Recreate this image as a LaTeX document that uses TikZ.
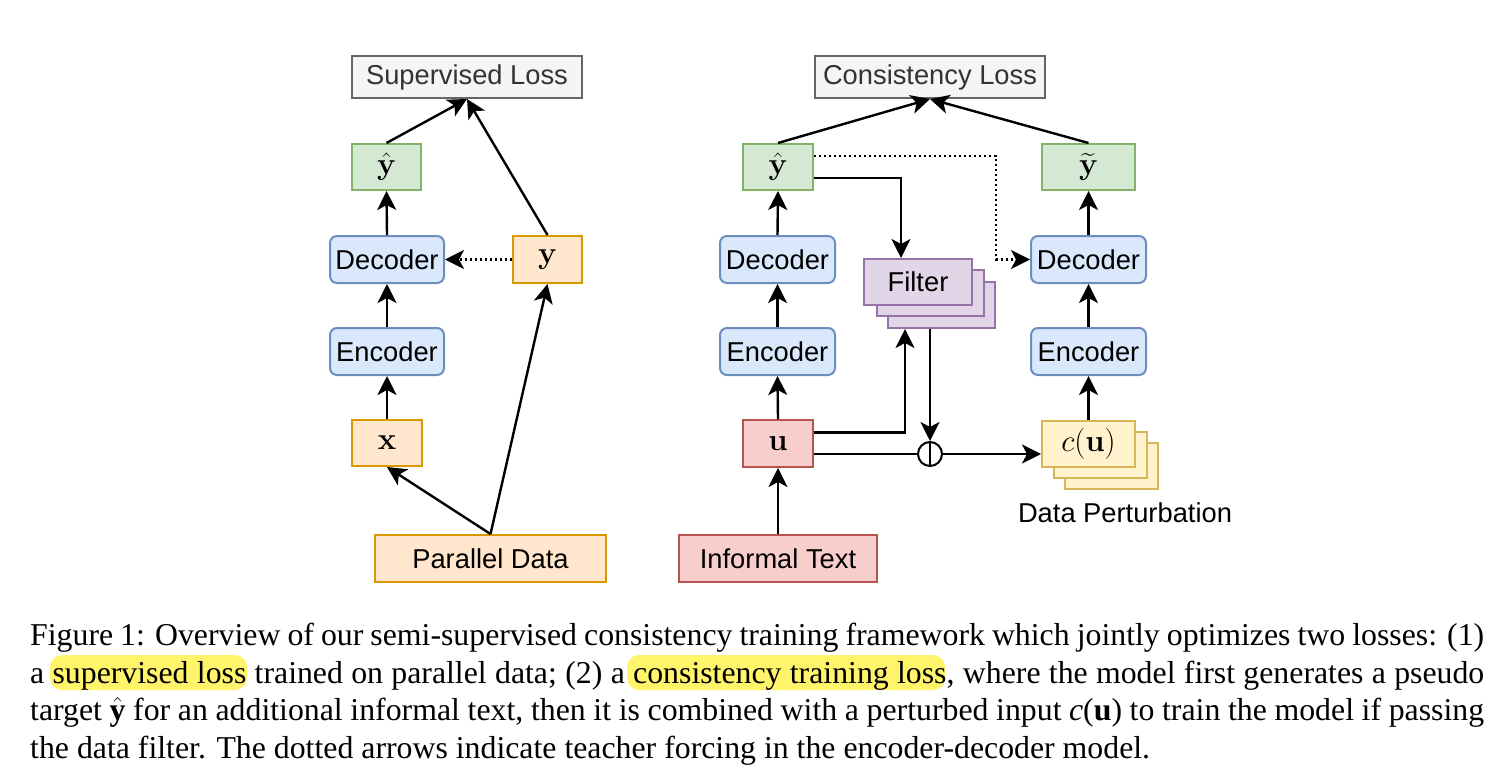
\RequirePackage{fix-cm}
\documentclass[tikz,border=0pt]{standalone}
\usepackage[no-math]{fontspec}
\setmainfont{Liberation Serif}
\newfontfamily\arialf{Liberation Sans}
\usepackage{amsmath}
\usetikzlibrary{arrows.meta,calc}
\definecolor{gfill}{HTML}{D5E8D4}\definecolor{gdraw}{HTML}{82B366}
\definecolor{bfill}{HTML}{DAE8FC}\definecolor{bdraw}{HTML}{6C8EBF}
\definecolor{ofill}{HTML}{FFE6CC}\definecolor{odraw}{HTML}{D79B00}
\definecolor{kfill}{HTML}{F5F5F5}\definecolor{kdraw}{HTML}{666666}\definecolor{ktext}{HTML}{333333}
\definecolor{rfill}{HTML}{F8CECC}\definecolor{rdraw}{HTML}{B85450}
\definecolor{pfill}{HTML}{E1D5E7}\definecolor{pdraw}{HTML}{9673A6}
\definecolor{yfill}{HTML}{FFF2CC}\definecolor{ydraw}{HTML}{D6B656}
\definecolor{hilite}{HTML}{FFF46A}
\tikzset{
  basebox/.style={draw, line width=2pt, inner sep=0pt, font=\arialf\fontsize{27.3}{30}\selectfont},
  mathbox/.style={basebox, font=\fontsize{31}{31}\selectfont},
  lossbox/.style={basebox, fill=kfill, draw=kdraw, text=ktext, minimum width=230pt, minimum height=42pt},
  greenbox/.style={mathbox, fill=gfill, draw=gdraw, minimum height=46pt},
  bluebox/.style={basebox, fill=bfill, draw=bdraw, rounded corners=7pt, minimum width=114pt, minimum height=47pt},
  orangebox/.style={basebox, fill=ofill, draw=odraw, minimum height=46pt},
  redbox/.style={basebox, fill=rfill, draw=rdraw, minimum height=47pt},
  purplebox/.style={basebox, fill=pfill, draw=pdraw, minimum width=108pt, minimum height=46pt},
  yellowbox/.style={mathbox, fill=yfill, draw=ydraw, minimum width=93pt, minimum height=46pt},
  arr/.style={line width=2.4pt, -{Stealth[length=19pt,width=19pt,inset=5pt]}},
  plain/.style={line width=2.4pt},
  dotline/.style={dash pattern=on 2.4pt off 2.6pt},
  capline/.style={anchor=base west, inner sep=0pt, font=\fontsize{31.8}{37.5}\selectfont},
  hl/.style={fill=hilite, rounded corners=12pt, draw=none}
}
\begin{document}
\begin{tikzpicture}[x=1pt,y=-1pt]
\useasboundingbox (0,0) rectangle (1498,779);
% ---------- left diagram ----------
\node[lossbox] (sl) at (467,77) {Supervised Loss};
\node[greenbox, minimum width=69pt] (lyh) at (386.5,167) {$\hat{\mathbf{y}}$};
\node[bluebox] (ldec) at (387,259.5) {Decoder};
\node[orangebox, mathbox, fill=ofill, draw=odraw, minimum width=69pt, minimum height=47pt] (ly) at (547.5,259.5) {$\mathbf{y}$};
\node[bluebox] (lenc) at (387,351.5) {Encoder};
\node[orangebox, mathbox, fill=ofill, draw=odraw, minimum width=70pt] (lx) at (387,443) {$\mathbf{x}$};
\node[orangebox, minimum width=231pt, minimum height=47pt] (pd) at (490.5,558.5) {Parallel Data};

\draw[arr] (lyh.north) -- (sl.south);
\draw[arr] (ly.north) -- (sl.south);
\draw[arr] (ldec.north) -- (lyh.south);
\draw[arr, dotline] (ly.west) -- (ldec.east);
\draw[arr] (lenc.north) -- (ldec.south);
\draw[arr] (lx.north) -- (lenc.south);
\draw[arr] (pd.north) -- (lx.south);
\draw[arr] (pd.north) -- (ly.south);

% ---------- right diagram ----------
\node[lossbox] (cl) at (930,77) {Consistency Loss};
\node[greenbox, minimum width=70pt] (ryh) at (778,167) {$\hat{\mathbf{y}}$};
\node[greenbox, minimum width=93pt] (ryt) at (1088.5,167) {$\widetilde{\mathbf{y}}$};
\node[bluebox, minimum width=115pt] (rdec1) at (777.5,259.5) {Decoder};
\node[bluebox, minimum width=115pt] (rdec2) at (1088.5,259.5) {Decoder};
\node[bluebox, minimum width=115pt] (renc1) at (777.5,351.5) {Encoder};
\node[bluebox, minimum width=115pt] (renc2) at (1088.5,351.5) {Encoder};
\node[redbox, mathbox, fill=rfill, draw=rdraw, minimum width=70pt, minimum height=47pt] (u) at (778,443.5) {$\mathbf{u}$};
\node[redbox, minimum width=198pt] (it) at (778,558.5) {Informal Text};

% filter stack
\node[purplebox, minimum width=107pt] (f3) at (941.5,305) {};
\node[purplebox, minimum width=107pt] (f2) at (930,293) {};
\node[purplebox] (f1) at (918,282) {Filter};

% c(u) stack
\node[yellowbox] (cu3) at (1111.5,465.5) {};
\node[yellowbox] (cu2) at (1100,455) {};
\node[yellowbox] (cu1) at (1088.5,443.5) {$c(\mathbf{u})$};
\node[font=\arialf\fontsize{27.3}{30}\selectfont, inner sep=0pt] (dp) at (1125,513) {Data Perturbation};

\node[draw, circle, line width=2pt, minimum size=24pt, inner sep=0pt] (circ) at (930,454) {};
\draw[line width=2pt] (circ.north) -- (circ.south);

\coordinate (dotc) at (996,259.5);
\draw[arr] (ryh.north) -- (cl.south);
\draw[arr] (ryt.north) -- (cl.south);
\draw[arr] (rdec1.north) -- (ryh.south);
\draw[arr] (renc1.north) -- (rdec1.south);
\draw[arr] (u.north) -- (renc1.south);
\draw[arr] (it.north) -- (u.south);
\draw[arr] ([yshift=-11pt]ryh.east) -| ([xshift=-17pt]f1.north);
\draw[arr, dotline] ([yshift=11pt]ryh.east) -| (dotc) -- (rdec2.west);
\draw[arr] ([yshift=11pt]u.east) -| ([xshift=-36.5pt]f3.south);
\draw[arr] ([xshift=-11.5pt]f3.south) -- (circ.north);
\draw[plain] ([yshift=-10.5pt]u.east) -- (circ.west);
\draw[arr] (circ.east) -- ([yshift=-10.5pt]cu1.west);
\draw[arr] (cu1.north) -- (renc2.south);
\draw[arr] (renc2.north) -- (rdec2.south);
\draw[arr] (rdec2.north) -- (ryt.south);

% ---------- caption ----------
\node[hl, minimum width=197pt, minimum height=35pt, inner sep=0pt] (h1) at (148.5,672.5) {};
\node[hl, minimum width=318pt, minimum height=35pt, inner sep=0pt] (h2) at (786,672.5) {};
\node[capline] (c1) at (30,645.5) {\makebox[1454pt][s]{Figure 1: Overview of our semi-supervised consistency training framework which jointly optimizes two losses: (1)}};
\node[capline] (c2) at (30,683) {\makebox[1454pt][s]{a supervised loss trained on parallel data; (2) a consistency training loss, where the model first generates a pseudo}};
\node[capline] (c3) at (30,720.5) {\makebox[1454pt][s]{target $\hat{\mbox{\textbf{y}}}$ for an additional informal text, then it is combined with a perturbed input \textit{c}(\textbf{u}) to train the model if passing}};
\node[capline] (c4) at (30,758) {the data filter. The dotted arrows indicate teacher forcing in the encoder-decoder model.};
\end{tikzpicture}
\end{document}
